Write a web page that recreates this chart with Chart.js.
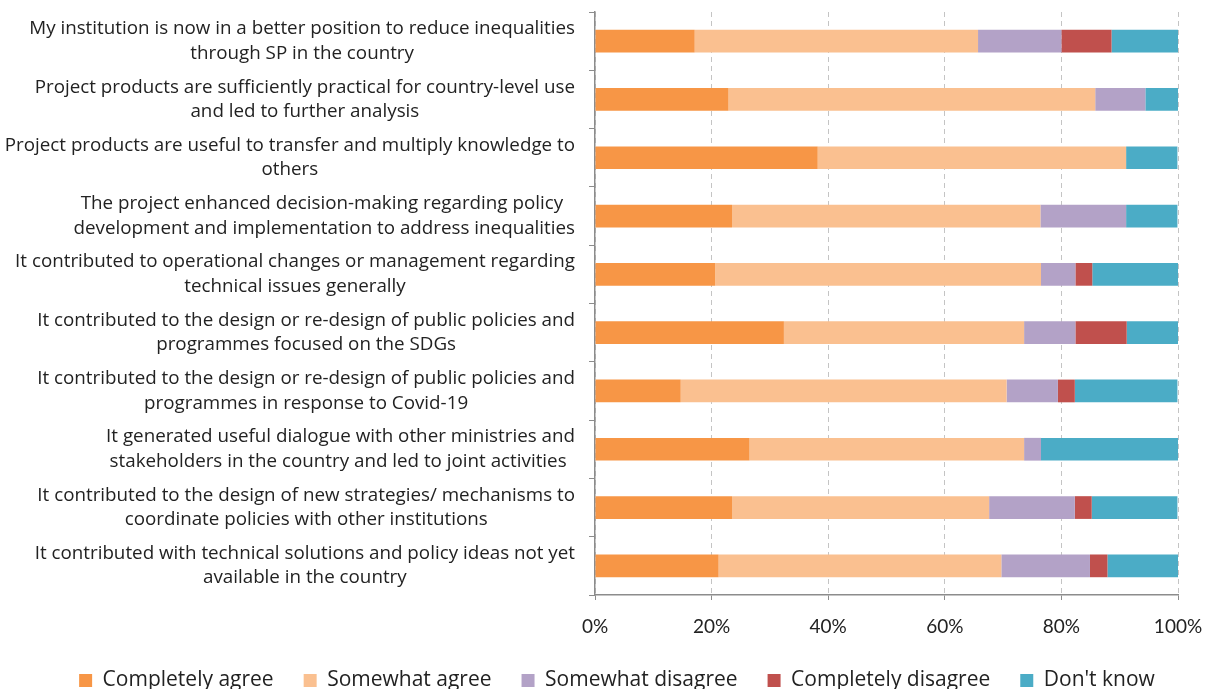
<!DOCTYPE html>
<html>
<head>
<meta charset="utf-8">
<script src="https://cdn.jsdelivr.net/npm/chart.js@4/dist/chart.umd.min.js"></script>
<style>
  html, body { margin: 0; padding: 0; background: #fff; }
  #wrap { width: 1209px; height: 689px; }
</style>
</head>
<body>
<div id="wrap"><canvas id="chartEnquete"></canvas></div>
<script>
// Données (% des répondants)
const categories = [
    ['My institution is now in a better position to reduce inequalities', 'through SP in the country'],
    ['Project products are sufficiently practical for country-level use', 'and led to further analysis'],
    ['Project products are useful to transfer and multiply knowledge to', 'others'],
    ['The project enhanced decision-making regarding policy ', 'development and implementation to address inequalities'],
    ['It contributed to operational changes or management regarding', 'technical issues generally'],
    ['It contributed to the design or re-design of public policies and', 'programmes focused on the SDGs'],
    ['It contributed to the design or re-design of public policies and', 'programmes in response to Covid-19'],
    ['It generated useful dialogue with other ministries and', 'stakeholders in the country and led to joint activities '],
    ['It contributed to the design of new strategies/ mechanisms to', 'coordinate policies with other institutions'],
    ['It contributed with technical solutions and policy ideas not yet', 'available in the country']
];
const completelyAgree    = [17.1, 22.9, 38.2, 23.5, 20.6, 32.4, 14.7, 26.5, 23.5, 21.2];
const somewhatAgree      = [48.6, 62.9, 52.9, 52.9, 55.9, 41.2, 55.9, 47.1, 44.1, 48.5];
const somewhatDisagree   = [14.3, 8.6, 0, 14.7, 5.9, 8.8, 8.8, 2.9, 14.7, 15.2];
const completelyDisagree = [8.6, 0, 0, 0, 2.9, 8.8, 2.9, 0, 2.9, 3.0];
const dontKnow           = [11.4, 5.7, 8.8, 8.8, 14.7, 8.8, 17.6, 23.5, 14.7, 12.1];
const xTicks = [0, 20, 40, 60, 80, 100];

const police = '"Open Sans"';
const couleurTexte = '#222';

// Libellés de l'axe Y : bloc aligné à droite, lignes centrées
const libellesY = {
    id: 'libellesY',
    afterDraw(chart) {
        const ctx = chart.ctx;
        const y = chart.scales.y;
        ctx.save();
        ctx.font = '18.8px ' + police;
        ctx.fillStyle = couleurTexte;
        ctx.textAlign = 'center';
        ctx.textBaseline = 'middle';
        const droite = y.right - 20;
        const interligne = 24.5;
        categories.forEach((lignes, i) => {
            const cy = y.getPixelForTick(i);
            const largeur = Math.max(...lignes.map(l => ctx.measureText(l).width));
            const cx = droite - largeur / 2;
            lignes.forEach((l, j) => {
                ctx.fillText(l, cx, cy + (j - (lignes.length - 1) / 2) * interligne);
            });
        });
        ctx.restore();
    }
};

// Légende un peu décalée vers la droite, comme l'original
const decalageLegende = {
    id: 'decalageLegende',
    afterLayout(chart) {
        if (chart.legend) {
            chart.legend.left += 28;
            chart.legend.right += 28;
        }
    }
};

const ctxEnquete = document.getElementById('chartEnquete');
new Chart(ctxEnquete, {
    type: 'bar',
    data: {
        labels: categories,
        datasets: [
            { label: 'Completely agree', data: completelyAgree, backgroundColor: '#F79646' },
            { label: 'Somewhat agree', data: somewhatAgree, backgroundColor: '#FAC090' },
            { label: 'Somewhat disagree', data: somewhatDisagree, backgroundColor: '#B3A2C7' },
            { label: 'Completely disagree', data: completelyDisagree, backgroundColor: '#C0504D' },
            { label: "Don't know", data: dontKnow, backgroundColor: '#4BACC6' }
        ]
    },
    options: {
        indexAxis: 'y',
        responsive: true,
        maintainAspectRatio: false,
        animation: false,
        categoryPercentage: 1,
        barPercentage: 0.39,
        layout: { padding: { top: 12, right: 31, left: 0, bottom: 0 } },
        scales: {
            x: {
                stacked: true,
                min: 0,
                max: 100,
                afterBuildTicks: (scale) => { scale.ticks = xTicks.map(v => ({ value: v })); },
                afterFit: (scale) => {
                    scale.height = 45;
                    scale.paddingRight = 0;
                    scale.paddingLeft = 0;
                },
                ticks: {
                    callback: v => v + '%',
                    color: couleurTexte,
                    font: { family: 'Lato', size: 19 },
                    padding: 15,
                    maxRotation: 0
                },
                grid: { color: '#c4c4c4', tickColor: '#8c8c8c', tickLength: 5, lineWidth: 1 },
                border: { display: true, color: '#8c8c8c', width: 1.5, dash: [5, 4] }
            },
            y: {
                stacked: true,
                afterFit: (scale) => { scale.width = 595; },
                ticks: { display: false },
                grid: { drawOnChartArea: false, color: '#8c8c8c', tickLength: 6 },
                border: { display: true, color: '#8c8c8c', width: 1.5 }
            }
        },
        plugins: {
            legend: {
                position: 'bottom',
                maxHeight: 49,
                labels: {
                    boxWidth: 13,
                    boxHeight: 13,
                    padding: 30,
                    color: couleurTexte,
                    font: { family: police, size: 21 }
                }
            },
            tooltip: { enabled: false }
        }
    },
    plugins: [libellesY, decalageLegende]
});
</script>
</body>
</html>
